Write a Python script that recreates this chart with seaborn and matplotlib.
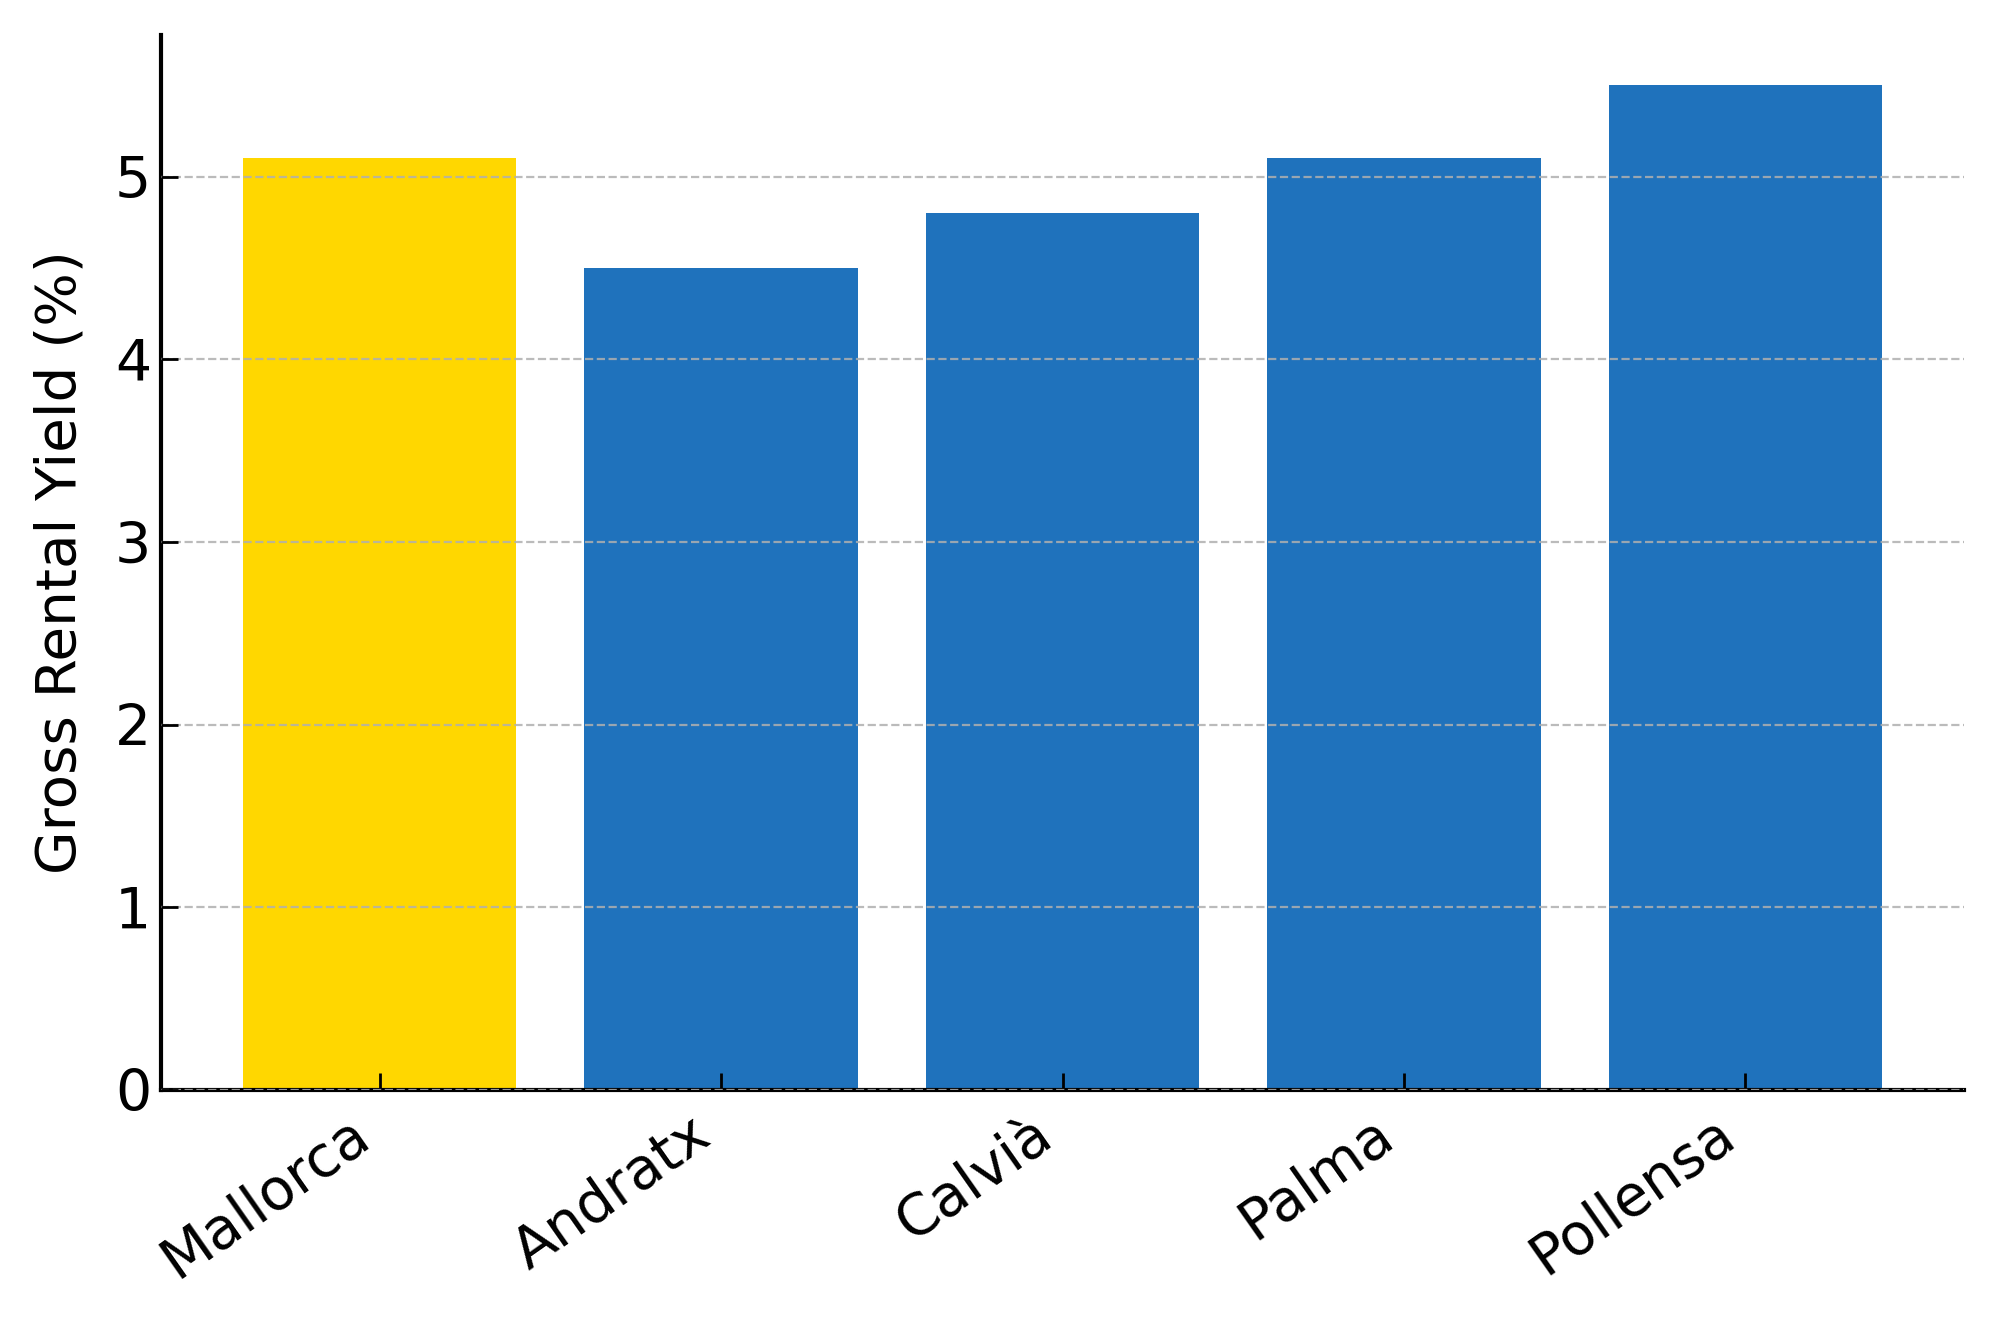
import matplotlib
matplotlib.use("Agg")
import matplotlib.pyplot as plt
import seaborn as sns
import pandas as pd

# data
regions = ["Mallorca", "Andratx", "Calvià", "Palma", "Pollensa"]
yields = [5.1, 4.5, 4.8, 5.1, 5.5]
bar_colors = ["#FFD700", "#1f72bc", "#1f72bc", "#1f72bc", "#1f72bc"]

df = pd.DataFrame({"region": regions, "yield": yields})

plt.rcParams["font.family"] = ["DejaVu Sans"]
fig, ax = plt.subplots(figsize=(10, 6.61), dpi=200)
fig.subplots_adjust(left=0.0805, right=0.982, top=0.9735, bottom=0.1755)

sns.barplot(data=df, x="region", y="yield", hue="region",
            palette=dict(zip(regions, bar_colors)), legend=False,
            width=0.8, saturation=1, ax=ax)

ax.set_xlim(-0.64, 4.64)
ax.set_ylim(0, 5.775)
ax.set_yticks([0, 1, 2, 3, 4, 5])

# dashed grid, drawn over the bars like in the reference
ax.yaxis.grid(True, linestyle="--", color="#b0b0b0", linewidth=0.8, alpha=0.85)
ax.set_axisbelow(False)
for bar in ax.patches:
    bar.set_zorder(1)

ax.spines["top"].set_visible(False)
ax.spines["right"].set_visible(False)
ax.spines["left"].set_linewidth(1.5)
ax.spines["bottom"].set_linewidth(1.5)
ax.tick_params(direction="in", length=6, width=1.0, labelsize=20.5)
ax.tick_params(axis="x", pad=6)

ax.set_xlabel("")
ax.set_ylabel("Gross Rental Yield (%)", fontsize=20.3, labelpad=10)
plt.setp(ax.get_xticklabels(), rotation=35, ha="right", rotation_mode="default")

fig.savefig("out.png", dpi=200)
